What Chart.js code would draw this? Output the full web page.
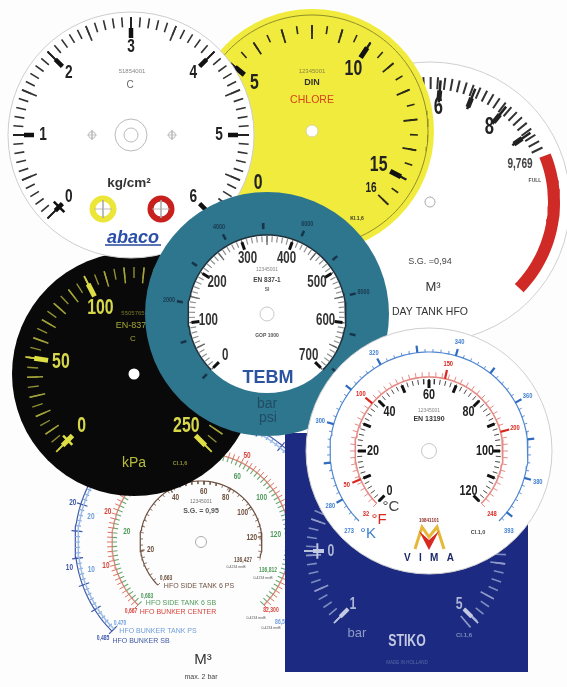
<!DOCTYPE html>
<html>
<head>
<meta charset="utf-8">
<style>
  html, body { margin: 0; padding: 0; background: #fdfdfd; }
  canvas { display: block; filter: blur(0.35px); }
</style>
<script src="https://cdn.jsdelivr.net/npm/chart.js@4"></script>
</head>
<body>
<canvas id="myChart" width="567" height="687"></canvas>
<script>
// scale values printed on each dial
const abacoValues = [0, 1, 2, 3, 4, 5, 6];
const yellowValues = [0, 5, 10, 15];
const yellowEndValue = [16];
const dayTankValues = [6, 8];
const blackValues = [0, 50, 100, 250];
const barValues = [0, 100, 200, 300, 400, 500, 600, 700];
const psiValues = [2000, 4000, 6000, 8000];
const celsiusValues = [0, 20, 40, 60, 80, 100, 120];
const fahrenheitValues = [32, 50, 100, 150, 200, 248];
const kelvinValues = [273, 280, 300, 320, 340, 360, 380, 393];
const stikoValues = [0, 1, 5];
const stikoAngles = [-90, -135, 135];

// the tank dial has non linear scales, so angle per value is read off the picture
const tank6Values = [20, 40, 60, 80, 100, 120];
const tank6Angles = [-98, -30, 3, 29, 55, 85];
const tankGreenValues = [20, 60, 100, 120];
const tankGreenAngles = [-82, 29, 54, 84];
const tankRedValues = [10, 20, 50];
const tankRedAngles = [-104, -72, 28];
const tankBlueValues = [10, 20];
const tankBlueAngles = [-104, -77];
const tankDarkValues = [10, 20];
const tankDarkAngles = [-101, -73];

// no narrow face is installed, the text plugin squeezes fonts marked "narrow"
const NARROW = "'Liberation Sans', narrow";
const SANS = "'Liberation Sans'";

const datasets = [];
const textsByDataset = {};

function rad(d) { return d * Math.PI / 180; }
function polar(d, r, deg) {
  return { x: d.cx + r * Math.sin(rad(deg)), y: d.cy - r * Math.cos(rad(deg)) };
}
function angleOf(d, v) {
  return d.a0 + (v - d.min) / (d.max - d.min) * (d.a1 - d.a0);
}
function range(from, to, step) {
  const out = [];
  const n = Math.round((to - from) / step);
  for (let i = 0; i <= n; i++) out.push(from + i * step);
  return out;
}

function addDisc(x, y, r, fill, stroke, width) {
  datasets.push({
    data: [{ x: x, y: y }], showLine: false, clip: false,
    pointRadius: r, pointBackgroundColor: fill,
    pointBorderColor: stroke || fill, pointBorderWidth: width || 0
  });
}
function addPath(points, color, width) {
  datasets.push({
    data: points, showLine: true, clip: false, pointRadius: 0,
    borderColor: color, borderWidth: width, borderCapStyle: 'butt', tension: 0
  });
}
function addShape(points, fill) {
  datasets.push({
    data: points, showLine: true, clip: false, pointRadius: 0,
    borderColor: fill, borderWidth: 0, backgroundColor: fill, fill: 'shape', tension: 0
  });
}
function addText(text, x, y, font, color) {
  const i = datasets.length - 1;
  (textsByDataset[i] = textsByDataset[i] || []).push({ text, x, y, font, color });
}
function addArc(d, r, from, to, color, width) {
  const pts = [];
  for (let a = from; a <= to + 0.001; a += 2) pts.push(polar(d, r, a));
  addPath(pts, color, width);
}
// ticks at given angles, broken into pieces with NaN gaps
function addTicks(d, angles, r1, r2, color, width) {
  const pts = [];
  angles.forEach(a => {
    pts.push(polar(d, r1, a), polar(d, r2, a), { x: NaN, y: NaN });
  });
  addPath(pts, color, width);
}
function addLabels(d, values, angles, r, font, color) {
  values.forEach((v, i) => {
    const p = polar(d, r, angles[i]);
    addText(String(v), p.x, p.y, font, color);
  });
}
function scaleAngles(d, values) { return values.map(v => angleOf(d, v)); }
function addCrossbar(d, a, r, da, color, width) {
  addPath([polar(d, r, a - da), polar(d, r, a + da)], color, width);
}

// ---- tank dial (bottom layer)
const tank = { cx: 201, cy: 542 };
const brown = '#6e5040', green = '#4f9a5a', red = '#d8443c', lblue = '#6f9edc', dblue = '#3f58a8';
addArc(tank, 126, -135, 125, dblue, 1.2);
addTicks(tank, range(-135, 125, 2.5), 126, 121, '#7fa6dd', 1.2);
addTicks(tank, range(-135, 125, 12.5), 130, 119, dblue, 1.2);
addArc(tank, 123, -135, 125, '#9dbde6', 1.5);
addArc(tank, 89, -135, 135, '#d9877a', 1.3);
addTicks(tank, range(-135, 135, 3), 94, 89, '#e0705f', 1);
addTicks(tank, range(-135, 135, 3), 89, 84, '#6aa86f', 1.1);
addArc(tank, 61, -135, 105, brown, 1.2);
addTicks(tank, range(-135, 105, 6), 61, 58, brown, 0.8);
addTicks(tank, tank6Angles, 61, 57, brown, 1.2);
addDisc(201, 542, 5.5, '#ffffff', '#aaaaaa', 1);
addLabels(tank, tank6Values, tank6Angles, 51, "bold 9px " + NARROW, brown);
addLabels(tank, tankGreenValues, tankGreenAngles, 75, "bold 9px " + NARROW, green);
addLabels(tank, tankRedValues, tankRedAngles, 98, "bold 9px " + NARROW, red);
addLabels(tank, tankBlueValues, tankBlueAngles, 113, "bold 9px " + NARROW, lblue);
addLabels(tank, tankDarkValues, tankDarkAngles, 134, "bold 9px " + NARROW, dblue);
addText('12345001', 201, 502, "5px " + SANS, '#777');
addText('S.G. = 0,95', 201, 511, "bold 7px " + SANS, '#555');
addText('136,427', 243, 560, "bold 7px " + NARROW, brown);
addText('136,812', 268, 570, "bold 7px " + NARROW, green);
addText('82,300', 271, 610, "bold 7px " + NARROW, red);
addText('86,5', 280, 622, "bold 7px " + NARROW, lblue);
addText('0,663', 166, 578, "bold 7px " + NARROW, brown);
addText('HFO SIDE TANK 6 PS', 199, 586, "7px " + SANS, brown);
addText('0,683', 147, 596, "bold 7px " + NARROW, green);
addText('HFO SIDE TANK 6 SB', 181, 603, "7px " + SANS, green);
addText('0,667', 131, 611, "bold 7px " + NARROW, red);
addText('HFO BUNKER CENTER', 178, 612, "7px " + SANS, red);
addText('0,470', 120, 623, "bold 7px " + NARROW, lblue);
addText('HFO BUNKER TANK PS', 158, 631, "7px " + SANS, lblue);
addText('0,485', 103, 638, "bold 7px " + NARROW, dblue);
addText('HFO BUNKER SB', 141, 641, "7px " + SANS, dblue);
addText('0-4234 mnB', 236, 567, "3.5px " + SANS, '#555');
addText('0-4234 mnB', 263, 578, "3.5px " + SANS, '#555');
addText('0-4234 mnB', 256, 618, "3.5px " + SANS, '#555');
addText('0-4234 mnB', 271, 628, "3.5px " + SANS, '#555');
addText('M³', 203, 660, "15px " + SANS, '#333');
addText('max. 2 bar', 201, 677, "7px " + SANS, '#444');

// ---- day tank dial
const day = { cx: 430, cy: 202, min: 6, max: 8, a0: 5, a1: 38.6 };
addDisc(430, 202, 140, '#ffffff', '#cfcfcf', 1);
addTicks(day, range(-40, 65, 3.36), 125, 113, '#333', 2);
addTicks(day, range(5, 55, 16.8), 122, 100, '#222', 2.5);
addTicks(day, range(5, 55, 16.8), 112, 102, '#222', 5);
addArc(day, 124, 68, 134, '#cf2a26', 12);
addDisc(430, 202, 5, '#ffffff', '#aaaaaa', 1);
addLabels(day, dayTankValues, scaleAngles(day, dayTankValues), 95, "bold 23px " + NARROW, '#222');
addText('9,769', 520, 164, "bold 14px " + NARROW, '#444');
addText('FULL', 535, 181, "bold 5px " + SANS, '#555');
addText('S.G. =0,94', 430, 262, "9px " + SANS, '#444');
addText('M³', 433, 287, "13px " + SANS, '#333');
addText('DAY TANK HFO', 430, 312, "10.5px " + SANS, '#333');

// ---- yellow dial
const yellow = { cx: 312, cy: 131, min: 0, max: 16, a0: -134, a1: 134 };
addDisc(312, 131, 122, '#f1eb3d');
addArc(yellow, 116, -180, 180, '#8f8c2a', 1);
addTicks(yellow, range(-134, 134, 8.375), 106, 98, '#2a2a1a', 1.6);
addTicks(yellow, range(-134, 134, 16.75), 106, 92, '#2a2a1a', 1.8);
addTicks(yellow, scaleAngles(yellow, [5, 10, 15]), 106, 90, '#222', 2);
addTicks(yellow, scaleAngles(yellow, [5, 10, 15]), 100, 88, '#111', 5);
addDisc(312, 131, 6, '#ffffff', '#d8d4a0', 1);
addLabels(yellow, yellowValues, scaleAngles(yellow, yellowValues), 75, "bold 22px " + NARROW, '#222');
addLabels(yellow, yellowEndValue, scaleAngles(yellow, yellowEndValue), 82, "bold 14px " + NARROW, '#222');
addText('12345001', 312, 71, "6px " + SANS, '#8a8740');
addText('DIN', 312, 83, "bold 9px " + SANS, '#333');
addText('CHLORE', 312, 100, "10.5px " + SANS, '#d5431f');
addText('Kl.1,6', 357, 219, "bold 5px " + SANS, '#333');

// ---- black dial
const black = { cx: 134, cy: 374, min: 0, max: 250, a0: -135, a1: 135 };
addDisc(134, 374, 122, '#090909');
addTicks(black, range(-135, 135, 5.4), 107, 96, '#8e8e32', 1.4);
addTicks(black, range(-135, 135, 10.8), 107, 91, '#a3a338', 1.5);
addTicks(black, scaleAngles(black, [0, 50, 100, 250]), 110, 90, '#cfcf40', 1.8);
addTicks(black, scaleAngles(black, [0, 50, 100, 250]), 101, 87, '#dede45', 5);
addCrossbar(black, -135, 94, 4, '#dede45', 2.5);
addDisc(134, 374, 5.5, '#ffffff');
addLabels(black, blackValues, scaleAngles(black, blackValues), 74, "bold 22px " + NARROW, '#d6d84a');
addText('5505765', 133, 313, "6px " + SANS, '#77772a');
addText('EN-837', 131, 326, "9px " + SANS, '#a8a838');
addText('C', 133, 339, "8px " + SANS, '#a8a838');
addText('kPa', 134, 463, "14px " + SANS, '#b9bb3e');
addText('Cl.1,6', 180, 463, "bold 5.5px " + SANS, '#8e8e32');

// ---- abaco dial
const abaco = { cx: 131, cy: 135, min: 0, max: 6, a0: -135, a1: 135 };
addDisc(131, 135, 123, '#ffffff', '#cdcdcd', 1);
addTicks(abaco, range(-135, 135, 4.5), 118, 108, '#333', 1.6);
addTicks(abaco, range(-135, 135, 22.5), 118, 102, '#333', 1.7);
addTicks(abaco, range(-135, 135, 45), 118, 97, '#222', 1.8);
addTicks(abaco, range(-135, 135, 45), 107, 97, '#111', 4.5);
addCrossbar(abaco, -135, 102, 4.2, '#111', 2.5);
addDisc(131, 135, 16, 'rgba(255,255,255,0)', '#bbbbbb', 1);
addDisc(131, 135, 7, 'rgba(255,255,255,0)', '#bbbbbb', 1);
addDisc(92, 135, 3.5, 'rgba(255,255,255,0)', '#bbbbbb', 1);
addPath([{ x: 87, y: 135 }, { x: 97, y: 135 }, { x: NaN, y: NaN }, { x: 92, y: 130 }, { x: 92, y: 140 }], '#bbbbbb', 0.8);
addDisc(172, 135, 3.5, 'rgba(255,255,255,0)', '#bbbbbb', 1);
addPath([{ x: 167, y: 135 }, { x: 177, y: 135 }, { x: NaN, y: NaN }, { x: 172, y: 130 }, { x: 172, y: 140 }], '#bbbbbb', 0.8);
addDisc(103, 209, 10.5, '#ffffff', '#ece638', 6);
addPath([{ x: 94, y: 209 }, { x: 112, y: 209 }, { x: NaN, y: NaN }, { x: 103, y: 200 }, { x: 103, y: 218 }], '#aaaaaa', 0.8);
addDisc(161, 209, 10.5, '#ffffff', '#c8201c', 6);
addPath([{ x: 152, y: 209 }, { x: 170, y: 209 }, { x: NaN, y: NaN }, { x: 161, y: 200 }, { x: 161, y: 218 }], '#aaaaaa', 0.8);
addPath([{ x: 105, y: 245 }, { x: 161, y: 245 }], '#24479c', 1.5);
addLabels(abaco, abacoValues, scaleAngles(abaco, abacoValues), 88, "bold 19px " + NARROW, '#222');
addText('51854001', 132, 71, "6px " + SANS, '#888');
addText('C', 130, 85, "10px " + SANS, '#666');
addText('kg/cm²', 129, 183, "bold 13.5px " + SANS, '#333');
addText('abaco', 133, 238, "italic bold 18px " + SANS, '#2a4fa8');

// ---- stiko plate
const stiko = { cx: 406, cy: 551 };
addShape([{ x: 285, y: 433 }, { x: 528, y: 433 }, { x: 528, y: 672 }, { x: 285, y: 672 }], '#1c2a82');
addTicks(stiko, range(-135, -55, 5.3), 100, 90, '#7f8cc0', 1.6);
addTicks(stiko, range(55, 135, 5.3), 100, 90, '#7f8cc0', 1.6);
addTicks(stiko, range(-135, -55, 21.2), 100, 85, '#8f9ac8', 1.6);
addTicks(stiko, range(55, 135, 21.2), 100, 85, '#8f9ac8', 1.6);
addTicks(stiko, stikoAngles, 102, 82, '#b9c0de', 1.8);
addTicks(stiko, stikoAngles, 93, 82, '#c4cae2', 4);
addCrossbar(stiko, -90, 89, 5, '#c4cae2', 2);
addLabels(stiko, stikoValues, stikoAngles, 75, "bold 17px " + NARROW, '#aeb6d6');
addText('bar', 357, 633, "13px " + SANS, '#8f9ac8');
addText('STIKO', 407, 641, "bold 17px " + NARROW, '#c3c9e2');
addText('Cl.1,6', 464, 635, "bold 6px " + SANS, '#7f8cc0');
addText('MADE IN HOLLAND', 407, 663, "4.5px " + SANS, '#5a68a8');

// ---- teal dial
const teal = { cx: 267, cy: 314, min: 0, max: 700, a0: -135, a1: 135 };
const psi = { cx: 267, cy: 314, min: 0, max: 10000, a0: -135, a1: 130 };
addDisc(267, 314, 122, '#2e758e');
addDisc(267, 314, 79, '#ffffff');
addArc(teal, 79, -135, 135, '#22323c', 1.5);
addTicks(teal, range(-135, 135, 3.857), 78, 72, '#8e8e8e', 1.2);
addTicks(teal, range(-135, 135, 19.29), 78, 69, '#666', 1.3);
addTicks(teal, scaleAngles(teal, barValues), 76, 68, '#111', 3);
addTicks(psi, scaleAngles(psi, range(0, 10000, 1000)), 91, 85, '#16344a', 2.5);
addDisc(267, 314, 7, '#ffffff', '#c8c8c8', 1);
addLabels(teal, barValues, scaleAngles(teal, barValues), 59, "bold 16px " + NARROW, '#333');
addLabels(psi, psiValues, scaleAngles(psi, psiValues), 99, "bold 7.5px " + NARROW, '#1a3a4e');
addText('12345001', 267, 270, "5px " + SANS, '#888');
addText('EN 837-1', 267, 280, "bold 6.5px " + SANS, '#444');
addText('SI', 267, 290, "bold 5px " + SANS, '#666');
addText('GOP 1000', 267, 336, "bold 5px " + SANS, '#555');
addText('TEBM', 268, 378, "bold 18px " + SANS, '#2a54a0');
addText('bar', 267, 404, "14px " + SANS, '#1f4c62');
addText('psi', 268, 418, "14px " + SANS, '#1f4c62');

// ---- vima dial (top layer)
const celsius = { cx: 429, cy: 451, min: 0, max: 120, a0: -135, a1: 135 };
const fahrenheit = { cx: 429, cy: 451, min: 32, max: 248, a0: -135, a1: 135 };
const kelvin = { cx: 429, cy: 451, min: 273, max: 393, a0: -135, a1: 135 };
addDisc(429, 451, 123, '#ffffff', '#cfcfcf', 1);
addArc(kelvin, 99, -135, 135, '#4f86d0', 1.2);
addTicks(kelvin, scaleAngles(kelvin, range(274, 392, 2)), 99, 102, '#4f86d0', 0.9);
addTicks(kelvin, scaleAngles(kelvin, range(280, 390, 10)), 99, 106, '#2f6cc0', 2.2);
addArc(fahrenheit, 74, -135, 135, '#e58b85', 1.6);
addTicks(fahrenheit, scaleAngles(fahrenheit, range(32, 248, 4)), 74, 79, '#e58b85', 1);
addTicks(fahrenheit, scaleAngles(fahrenheit, [50, 100, 150, 200]), 74, 83, '#d8281f', 2.2);
addTicks(celsius, scaleAngles(celsius, range(0, 120, 2)), 72, 67, '#333', 0.9);
addTicks(celsius, scaleAngles(celsius, range(0, 120, 10)), 71, 63, '#111', 3);
addDisc(429, 451, 7.5, '#ffffff', '#c8c8c8', 1);
addPath([{ x: 415, y: 549 }, { x: 422, y: 527 }, { x: 429, y: 537 }, { x: 437, y: 527 }, { x: 444, y: 549 }], '#e6b83a', 3);
addShape([{ x: 419, y: 531 }, { x: 429, y: 540 }, { x: 439, y: 531 }, { x: 429, y: 550 }], '#d62a22');
addLabels(celsius, celsiusValues, scaleAngles(celsius, celsiusValues), 56, "bold 15px " + NARROW, '#222');
addLabels(fahrenheit, fahrenheitValues, scaleAngles(fahrenheit, fahrenheitValues), 89, "bold 8px " + NARROW, '#d8281f');
addLabels(kelvin, kelvinValues, scaleAngles(kelvin, kelvinValues), 113, "bold 8px " + NARROW, '#3f7fd0');
addText('12345001', 429, 411, "5px " + SANS, '#888');
addText('EN 13190', 429, 419, "bold 7px " + SANS, '#333');
addText('°C', 391, 507, "15px " + SANS, '#444');
addText('°F', 379, 520, "15px " + SANS, '#d8281f');
addText('°K', 368, 534, "15px " + SANS, '#3f7fd0');
addText('V   I   M   A', 429, 558, "bold 10px " + SANS, '#1c2a6a');
addText('10841101', 429, 521, "bold 4.5px " + SANS, '#8a2a22');
addText('Cl.1,0', 478, 532, "bold 5.5px " + SANS, '#444');

// later datasets paint above earlier ones
datasets.forEach((d, i) => { d.order = datasets.length - i; });

const dialText = {
  id: 'dialText',
  afterDatasetDraw(chart, args) {
    const list = textsByDataset[args.index];
    if (!list) return;
    const ctx = chart.ctx;
    const xs = chart.scales.x, ys = chart.scales.y;
    list.forEach(t => {
      ctx.save();
      ctx.textAlign = 'center';
      ctx.textBaseline = 'middle';
      ctx.font = t.font;
      ctx.fillStyle = t.color;
      ctx.translate(xs.getPixelForValue(t.x), ys.getPixelForValue(t.y));
      if (t.font.includes('narrow')) ctx.scale(0.72, 1);
      ctx.fillText(t.text, 0, 0);
      ctx.restore();
    });
  }
};

new Chart('myChart', {
  type: 'scatter',
  data: { datasets: datasets },
  options: {
    responsive: false,
    animation: false,
    layout: { padding: 0, autoPadding: false },
    plugins: { legend: { display: false }, tooltip: { enabled: false } },
    scales: {
      x: { type: 'linear', min: 0, max: 567, display: false },
      y: { type: 'linear', min: 0, max: 687, reverse: true, display: false }
    }
  },
  plugins: [dialText]
});
</script>
</body>
</html>
